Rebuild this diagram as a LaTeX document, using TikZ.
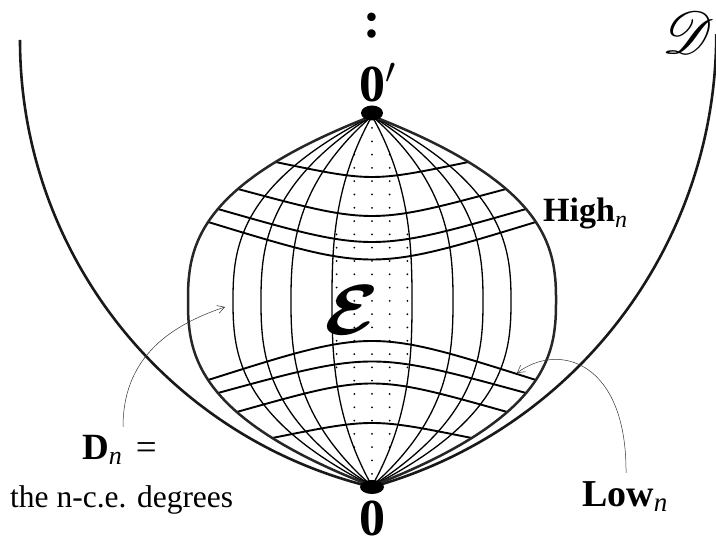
\IfFileExists{fix-cm.sty}{\RequirePackage{fix-cm}}{}
\documentclass[tikz,border=0pt]{standalone}
\usepackage{fontspec}
\setmainfont{Liberation Serif}
\IfFileExists{mathrsfs.sty}{\usepackage{mathrsfs}\newcommand{\bigscrD}{\mathscr{D}}}{\newcommand{\bigscrD}{\mathcal{D}}}
\usepackage{graphicx}
\usetikzlibrary{arrows.meta,shapes.geometric}
\begin{document}
\begin{tikzpicture}[x=1pt,y=1pt,
  meridian/.style={line width=1.3pt},
  rim/.style={line width=2.5pt, black!85},
  parallel/.style={line width=1.9pt},
  bowl/.style={line width=2.6pt, black!90},
  pole/.style={ellipse, fill=black, inner sep=0pt, minimum width=22pt, minimum height=15pt},
  thinarrow/.style={line width=0.5pt, black!80, -{Straight Barb[length=7pt,width=8pt]}},
  lab/.style={inner sep=0pt, anchor=base west},
]
\useasboundingbox (0,0) rectangle (716,541);
\clip (0,0) rectangle (716,541);

% dotted core
\foreach \j in {0,...,26} {
  \pgfmathsetmacro\rowY{413-13.3*\j}
  \pgfmathsetmacro\mylim{40*(1-max(abs((\rowY-240)/185),0.001)^2.6)-0.3}
  \foreach \k in {-2,...,2} {
    \pgfmathsetmacro\dxx{abs(17.7*\k)}
    \ifdim\dxx pt<\mylim pt\relax
      \fill ({372+17.7*\k},\rowY) circle[radius=1pt];
    \fi
  }
}

% parallels
\foreach \e/\m in {379/369, 352/334, 332/310, 319/294, 161/187, 148/169, 129/148, 103/113} {
  \pgfmathsetmacro\ex{184*(1-abs((\e-240)/185)^2.6)}
  \pgfmathsetmacro\cy{2*\m-\e}
  \draw[parallel] ({372-\ex},\e) .. controls (372,\cy) .. ({372+\ex},\e);
}

% meridians
\foreach \w in {40,81,111,139} {
  \foreach \s in {-1,1} {
    \draw[meridian] plot[domain=-1:1, samples=160, variable=\t]
      ({372+(\s)*\w*(1-max(abs(\t),0.001)^2.6)},{240+185*\t});
  }
}

% rim of E
\foreach \s in {-1,1} {
  \draw[rim] plot[domain=-1:1, samples=160, variable=\t]
    ({372+(\s)*184*(1-max(abs(\t),0.001)^2.6)},{240+185*\t});
}

% bowl D
\draw[bowl] (20,501) arc[start angle=180, end angle=256.42, radius=459.86];
\draw[bowl] (372,54) arc[start angle=285.53, end angle=360, radius=470.1];

% poles
\node[pole] (ptop) at (372,428) {};
\node[pole, minimum width=24pt, minimum height=14pt] (pbot) at (372,54) {};

% labels
\node[inner sep=0pt, anchor=base] (vdots) at (372,503) {\fontsize{52}{52}\selectfont\textbf{:}};
\node[inner sep=0pt, anchor=base] (zerop) at (372.5,439) {\fontsize{52}{52}\selectfont\textbf{0}\rlap{$'$}};
\node[inner sep=0pt, anchor=base] (zero) at (372.5,5) {\fontsize{52}{52}\selectfont\textbf{0}};
\node (calD) at (688,508) {\scalebox{2.4}{\Huge$\bigscrD$}};
\node (calE) at (352,231) {\scalebox{3.2}[2.85]{\Huge\boldmath$\mathcal{E}$}};
\node[lab, font=\fontsize{34}{34}\selectfont] (high) at (543,319)
  {\textbf{High}\raisebox{-0.15em}{\fontsize{24}{24}\selectfont\itshape n}};
\node[lab, font=\fontsize{38}{38}\selectfont] (low) at (582,34)
  {\textbf{Low}\raisebox{-0.12em}{\fontsize{27}{27}\selectfont\itshape n}};
\node[lab, font=\fontsize{37}{37}\selectfont] (dn) at (82,81)
  {\textbf{D}\raisebox{-0.13em}{\fontsize{26}{26}\selectfont\itshape n}\hspace{0.38em}=};
\node[lab, font=\fontsize{31.5}{31.5}\selectfont] (nce) at (10,33) {the n-c.e. degrees};

% arrows
\coordinate (dntail) at (123,114);
\coordinate (dntip) at (225,234);
\draw[thinarrow] (dntail) .. controls (123,180) and (165,214) .. (dntip);
\coordinate (lowtail) at (626,68);
\coordinate (lowtip) at (517,168);
\draw[thinarrow] (lowtail) .. controls (627,178) and (560,200) .. (lowtip);
\end{tikzpicture}
\end{document}
